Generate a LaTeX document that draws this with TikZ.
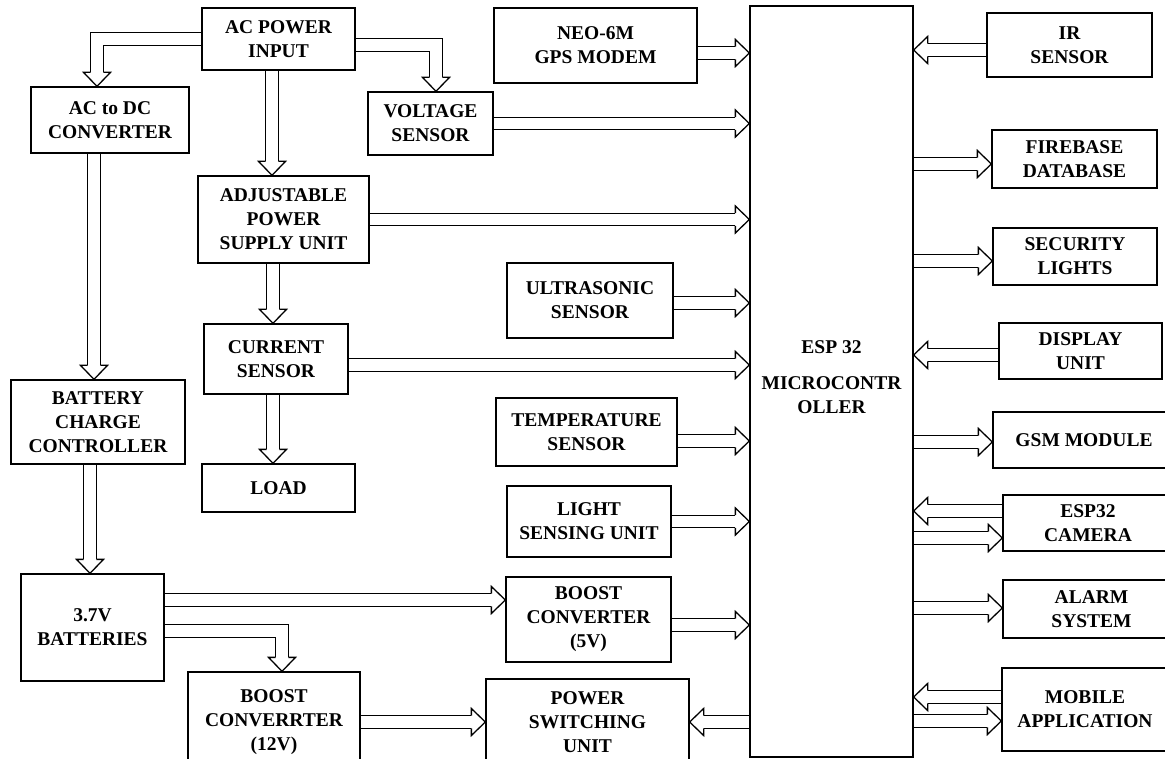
\documentclass[tikz,border=0pt]{standalone}
\usepackage{fontspec}
\setmainfont{Liberation Serif}
\usetikzlibrary{calc}
\pgfdeclarelayer{background}
\pgfsetlayers{background,main}
\def\arrW{6.3pt}\def\arrH{13.5pt}\def\arrL{14pt}
\tikzset{
  box/.style={draw, line width=1.3pt, fill=white, align=center, inner sep=0pt,
    font=\bfseries\fontsize{19.5}{24}\selectfont},
  shaft/.style={draw=black, line width=1.3pt, double=white, double distance=11.3pt,
    line join=miter, shorten >=14pt},
  headline/.style={line width=1.3pt, line join=miter},
}
\newcommand\bhead[2]{%
  \coordinate (hk) at #1; \coordinate (hb) at #2;
  \coordinate (hc) at ($(hb)!\arrL!(hk)$);
  \fill[white] ($(hc)!\arrH!90:(hk)$) -- (hb) -- ($(hc)!\arrH!-90:(hk)$) -- cycle;
  \draw[headline] ($(hc)!\arrW!90:(hk)$) -- ($(hc)!\arrH!90:(hk)$) -- (hb)
     -- ($(hc)!\arrH!-90:(hk)$) -- ($(hc)!\arrW!-90:(hk)$);}
\newcommand\barr[2]{\draw[shaft] #1 -- #2; \bhead{#1}{#2}}
\newcommand\earr[3]{\draw[shaft] #1 -- #2 -- #3; \bhead{#2}{#3}}
\begin{document}
\begin{tikzpicture}[x=1pt,y=-1pt]
\useasboundingbox (0,0) rectangle (1165,759);
\begin{pgfonlayer}{background}
\fill[white] (0,0) rectangle (1165,759);
\end{pgfonlayer}
\clip (0,0) rectangle (1165,759);
% nodes
\node[box, minimum width=153, minimum height=62] (ac) at (278.5,39) {AC POWER\\INPUT};
\node[box, minimum width=158, minimum height=66] (acdc) at (110,120) {AC to DC\\CONVERTER};
\node[box, minimum width=125, minimum height=63] (volt) at (430.5,123.5) {VOLTAGE\\SENSOR};
\node[box, minimum width=203, minimum height=75] (gps) at (595.5,45.5) {NEO-6M\\GPS MODEM};
\node[box, minimum width=171, minimum height=87] (adj) at (283.5,219.5) {ADJUSTABLE\\POWER\\SUPPLY UNIT};
\node[box, minimum width=166, minimum height=75] (ultra) at (590,300.5) {ULTRASONIC\\SENSOR};
\node[box, minimum width=144, minimum height=70] (cur) at (276,359) {CURRENT\\SENSOR};
\node[box, minimum width=174, minimum height=84] (bcc) at (98,422) {BATTERY\\CHARGE\\CONTROLLER};
\node[box, minimum width=181, minimum height=68] (temp) at (586.5,432) {TEMPERATURE\\SENSOR};
\node[box, minimum width=153, minimum height=48] (load) at (278.5,488) {LOAD};
\node[box, minimum width=164, minimum height=71] (light) at (589,521.5) {LIGHT\\SENSING UNIT};
\node[box, minimum width=143, minimum height=107] (batt) at (92.5,627.5) {3.7V\\BATTERIES};
\node[box, minimum width=165, minimum height=85] (bfive) at (588.5,619.5) {BOOST\\CONVERTER\\(5V)};
\node[box, minimum width=172, minimum height=100] (btwelve) at (274,722) {BOOST\\CONVERRTER\\(12V)};
\node[box, minimum width=203, minimum height=86] (psu) at (587.5,722) {POWER\\SWITCHING\\UNIT};
\node[box, minimum width=163, minimum height=751] (esp) at (831.5,381.5) {ESP 32\\[12pt]MICROCONTR\\OLLER\\[-16pt]};
\node[box, minimum width=165, minimum height=64] (ir) at (1069.5,45) {IR\\SENSOR};
\node[box, minimum width=165, minimum height=58] (fire) at (1074.5,159) {FIREBASE\\DATABASE};
\node[box, minimum width=164, minimum height=57] (sec) at (1075,256.5) {SECURITY\\LIGHTS};
\node[box, minimum width=163, minimum height=56] (disp) at (1080.5,351) {DISPLAY\\UNIT};
\node[box, minimum width=182, minimum height=56] (gsm) at (1084,440) {GSM MODULE};
\node[box, minimum width=170, minimum height=56] (cam) at (1088,523) {ESP32\\CAMERA};
\node[box, minimum width=177, minimum height=58] (alarm) at (1091.5,609) {ALARM\\SYSTEM};
\node[box, minimum width=166, minimum height=83] (mob) at (1085,709.5) {MOBILE\\APPLICATION};
% helper coordinates
\coordinate (k1) at ($(acdc.north)+(-13,0)$);
\coordinate (s2) at ($(ac.east)+(0,6)$);
\coordinate (k2) at ($(volt.north)+(5.5,0)$);
\coordinate (s3) at ($(ac.south)+(-6.5,0)$);
\coordinate (s4) at ($(acdc.south)+(-16,0)$);
\coordinate (s5) at ($(adj.south)+(-10.5,0)$);
\coordinate (s6) at ($(cur.south)+(-3,0)$);
\coordinate (s7) at ($(bcc.south)+(-8,0)$);
\coordinate (s8) at ($(batt.east)+(0,-27.5)$);
\coordinate (s9) at ($(batt.east)+(0,3.5)$);
\coordinate (k9) at ($(btwelve.north)+(8,0)$);
\coordinate (s12) at ($(gps.east)+(0,7.5)$);
\coordinate (s15) at ($(ultra.east)+(0,2.5)$);
\coordinate (s16) at ($(cur.east)+(0,6)$);
\coordinate (s17) at ($(temp.east)+(0,9)$);
\coordinate (s19) at ($(bfive.east)+(0,5.5)$);
\coordinate (s20) at ($(ir.west)+(0,5)$);
\coordinate (s21) at ($(fire.west)+(0,5)$);
\coordinate (s22) at ($(sec.west)+(0,4.5)$);
\coordinate (s23) at ($(disp.west)+(0,4)$);
\coordinate (s24) at ($(gsm.west)+(0,2)$);
\coordinate (s25) at ($(cam.west)+(0,-12)$);
\coordinate (s26) at ($(cam.west)+(0,15)$);
\coordinate (s27) at ($(alarm.west)+(0,-1)$);
\coordinate (s28) at ($(mob.west)+(0,-12.5)$);
\coordinate (s29) at ($(mob.west)+(0,11.5)$);
\begin{pgfonlayer}{background}
\earr{(ac.west)}{(ac.west -| k1)}{(k1)}
\earr{(s2)}{(s2 -| k2)}{(k2)}
\barr{(s3)}{(s3 |- adj.north)}
\barr{(s4)}{(s4 |- bcc.north)}
\barr{(s5)}{(s5 |- cur.north)}
\barr{(s6)}{(s6 |- load.north)}
\barr{(s7)}{(s7 |- batt.north)}
\barr{(s8)}{(s8 -| bfive.west)}
\earr{(s9)}{(s9 -| k9)}{(k9)}
\barr{(btwelve.east)}{(btwelve.east -| psu.west)}
\barr{(psu.east -| esp.west)}{(psu.east)}
\barr{(s12)}{(s12 -| esp.west)}
\barr{(volt.east)}{(volt.east -| esp.west)}
\barr{(adj.east)}{(adj.east -| esp.west)}
\barr{(s15)}{(s15 -| esp.west)}
\barr{(s16)}{(s16 -| esp.west)}
\barr{(s17)}{(s17 -| esp.west)}
\barr{(light.east)}{(light.east -| esp.west)}
\barr{(s19)}{(s19 -| esp.west)}
\barr{(s20)}{(s20 -| esp.east)}
\barr{(s21 -| esp.east)}{(s21)}
\barr{(s22 -| esp.east)}{(s22)}
\barr{(s23)}{(s23 -| esp.east)}
\barr{(s24 -| esp.east)}{(s24)}
\barr{(s25)}{(s25 -| esp.east)}
\barr{(s26 -| esp.east)}{(s26)}
\barr{(s27 -| esp.east)}{(s27)}
\barr{(s28)}{(s28 -| esp.east)}
\barr{(s29 -| esp.east)}{(s29)}
\end{pgfonlayer}
\end{tikzpicture}
\end{document}
